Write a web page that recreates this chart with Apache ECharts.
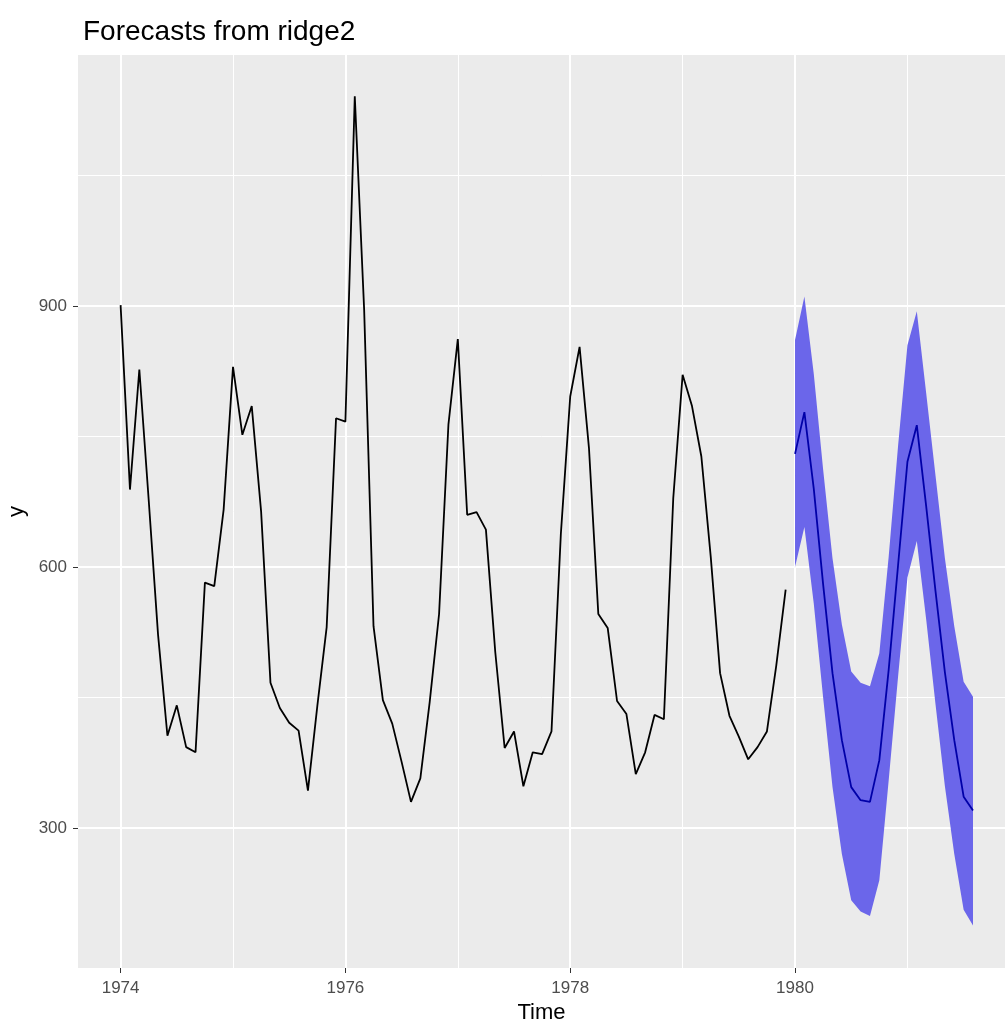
<!DOCTYPE html>
<html>
<head>
<meta charset="utf-8">
<script src="https://cdn.jsdelivr.net/npm/echarts@6/dist/echarts.min.js"></script>
<style>
  html, body { margin: 0; padding: 0; background: #fff; }
  #chart { width: 1005px; height: 1024px; }
</style>
</head>
<body>
<div id="chart"></div>
<script>
// monthly series, Jan 1974 .. Dec 1979
const histStart = 1974;
const histValues = [
  901, 689, 827, 677, 522, 406, 441, 393, 387, 582, 578, 666,
  830, 752, 785, 664, 467, 438, 421, 412, 343, 440, 531, 771,
  767, 1141, 896, 532, 447, 420, 376, 330, 357, 445, 546, 764,
  862, 660, 663, 643, 502, 392, 411, 348, 387, 385, 411, 638,
  796, 853, 737, 546, 530, 446, 431, 362, 387, 430, 425, 679,
  821, 785, 727, 612, 478, 429, 405, 379, 393, 411, 487, 574
];

// forecast, Jan 1980 .. Aug 1981
const fcStart = 1980;
const fcMean  = [730, 778, 690, 580, 478, 401, 347, 332, 330, 378, 482, 602, 721, 763, 670, 572, 479, 401, 336, 320];
const fcUpper = [861, 911, 822, 712, 610, 534, 480, 467, 463, 501, 612, 739, 855, 894, 800, 705, 610, 532, 468, 451];
const fcLower = [600, 646, 558, 450, 347, 270, 217, 204, 199, 240, 355, 474, 588, 630, 540, 442, 348, 270, 206, 188];

const xTicks = [1974, 1976, 1978, 1980];
const xMinor = [1975, 1977, 1979, 1981];
const yTicks = [300, 600, 900];
const yMinor = [450, 750, 1050];

const monthX = (start, i) => start + i / 12;
const hist = histValues.map((v, i) => [monthX(histStart, i), v]);
const mean = fcMean.map((v, i) => [monthX(fcStart, i), v]);
const upper = fcUpper.map((v, i) => [monthX(fcStart, i), v]);
const lower = fcLower.map((v, i) => [monthX(fcStart, i), v]);

const font = '"Liberation Sans", Arial, sans-serif';

const gridLines = [
  ...xMinor.map(v => ({ xAxis: v, lineStyle: { width: 1 } })),
  ...yMinor.map(v => ({ yAxis: v, lineStyle: { width: 1 } })),
  ...xTicks.map(v => ({ xAxis: v, lineStyle: { width: 2 } })),
  ...yTicks.map(v => ({ yAxis: v, lineStyle: { width: 2 } }))
];

function renderBand(params, api) {
  const pts = upper.map(p => api.coord(p))
    .concat(lower.slice().reverse().map(p => api.coord(p)));
  return {
    type: 'polygon',
    shape: { points: pts },
    style: { fill: '#6B66EA', stroke: null }
  };
}

const chart = echarts.init(document.getElementById('chart'));
chart.setOption({
  animation: false,
  backgroundColor: '#ffffff',
  title: {
    text: 'Forecasts from ridge2',
    left: 78,
    top: 13,
    textStyle: { fontFamily: font, fontSize: 28, fontWeight: 'normal', color: '#000' }
  },
  grid: {
    left: 78, right: 0, top: 55, bottom: 56,
    outerBoundsMode: 'none',
    containLabel: false,
    show: true, backgroundColor: '#EBEBEB', borderWidth: 0
  },
  xAxis: {
    type: 'value',
    min: 1973.621,
    max: 1981.868,
    name: 'Time',
    nameLocation: 'middle',
    nameGap: 33,
    nameTextStyle: { fontFamily: font, fontSize: 22, color: '#000' },
    axisLine: { show: false },
    axisTick: { show: true, customValues: xTicks, length: 5, lineStyle: { color: '#333', width: 1 } },
    axisLabel: {
      customValues: xTicks, margin: 12, fontFamily: font, fontSize: 17, color: '#4D4D4D',
      formatter: v => String(v)
    },
    splitLine: { show: false }
  },
  yAxis: {
    type: 'value',
    min: 139.1,
    max: 1188.5,
    name: 'y',
    nameLocation: 'middle',
    nameGap: 45,
    nameTextStyle: { fontFamily: font, fontSize: 22, color: '#000' },
    axisLine: { show: false },
    axisTick: { show: true, customValues: yTicks, length: 5, lineStyle: { color: '#333', width: 1 } },
    axisLabel: {
      customValues: yTicks, margin: 11, fontFamily: font, fontSize: 17, color: '#4D4D4D',
      formatter: v => String(v)
    },
    splitLine: { show: false }
  },
  series: [
    {
      name: 'grid',
      type: 'line',
      data: [],
      z: 1,
      silent: true,
      markLine: {
        z: 1,
        silent: true,
        symbol: ['none', 'none'],
        label: { show: false },
        lineStyle: { color: '#ffffff', type: 'solid' },
        data: gridLines
      }
    },
    {
      name: 'band',
      type: 'custom',
      data: [[fcStart, fcMean[0]]],
      z: 2,
      silent: true,
      renderItem: renderBand
    },
    {
      name: 'history',
      type: 'line',
      data: hist,
      symbol: 'none',
      z: 3,
      lineStyle: { color: '#000000', width: 1.8 }
    },
    {
      name: 'forecast',
      type: 'line',
      data: mean,
      symbol: 'none',
      z: 4,
      lineStyle: { color: '#0000A8', width: 1.8 }
    }
  ]
});
</script>
</body>
</html>
